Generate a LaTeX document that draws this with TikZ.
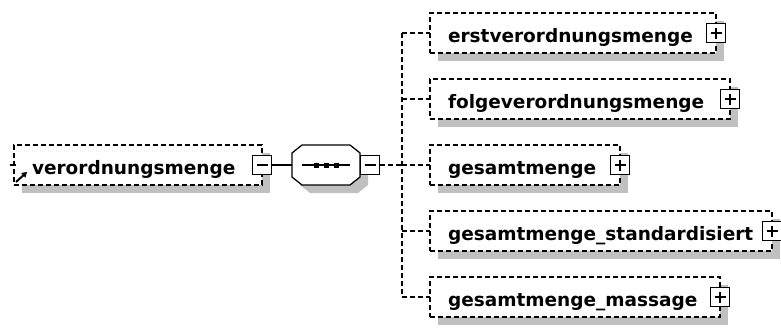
\documentclass[tikz,border=0pt]{standalone}
\usepackage{fontspec}
\setmainfont{DejaVu Sans}
\usetikzlibrary{shadows,arrows.meta}
\definecolor{shadowgray}{RGB}{192,192,192}
\begin{document}
\begin{tikzpicture}[x=1pt,y=-1pt,
  every node/.style={inner sep=0pt, outer sep=0pt},
  sh/.style={general shadow={fill=shadowgray, shadow xshift=8pt, shadow yshift=-8pt}},
  dsh/.style={dash pattern=on 5pt off 3pt},
  optbox/.style={draw, line width=1.3pt, dsh, fill=white, minimum height=40pt, anchor=north west, sh},
  lbl/.style={anchor=base west, font=\bfseries\fontsize{18.5}{20}\selectfont},
  pmbox/.style={draw, solid, line width=1.3pt, fill=white, minimum size=19pt},
  minusbox/.style={pmbox, path picture={\draw[line width=1.3pt] ([xshift=4pt]path picture bounding box.west) -- ([xshift=-4pt]path picture bounding box.east);}},
  plusbox/.style={pmbox, path picture={
     \draw[line width=1.3pt] ([xshift=4pt]path picture bounding box.west) -- ([xshift=-4pt]path picture bounding box.east);
     \draw[line width=1.3pt] ([yshift=-4pt]path picture bounding box.north) -- ([yshift=4pt]path picture bounding box.south);}},
  conn/.style={line width=1.3pt},
  dconn/.style={conn, dsh}
]
\useasboundingbox (0,0) rectangle (781,333);

% root element
\node[optbox, minimum width=248pt] (root) at (14,145) {};
\node[lbl] (roottext) at (32,174) {verordnungsmenge};
\coordinate (tickA) at (10,165);
\coordinate (tickB) at (16,165);
\draw[conn] (tickA) -- (tickB);
\coordinate (arrA) at (16,182);
\coordinate (arrB) at (27,172);
\draw[line width=2pt, -{Triangle[length=5pt,width=6pt]}] (arrA) -- (arrB);
\node[minusbox] (m1) at (root.east) {};

% sequence compositor
\node[minimum width=68pt, minimum height=40pt] (seq) at (326,165) {};
\fill[shadowgray] (310,153) -- (358,153) -- (368,161) -- (368,185) -- (358,193) -- (310,193) -- (300,185) -- (300,161) -- cycle;
\draw[conn, fill=white] (302,145) -- (350,145) -- (360,153) -- (360,177) -- (350,185) -- (302,185) -- (292,177) -- (292,153) -- cycle;
\coordinate (seqL) at (302,165);
\coordinate (seqR) at (350,165);
\draw[conn] (seqL) -- (seqR);
\foreach \dx in {-10,0,10} {\fill ([xshift=\dx pt]seq.center) +(-2.5,-2.5) rectangle +(2.5,2.5);}
\node[minusbox] (m2) at (370,165) {};
\draw[conn] (m1.east) -- (seq.west);

% children
\node[optbox, minimum width=286pt] (c1) at (430,13) {};
\node[lbl] (t1) at (448,42) {erstverordnungsmenge};
\node[plusbox] (p1) at (c1.east) {};

\node[optbox, minimum width=300pt] (c2) at (430,79) {};
\node[lbl] (t2) at (448,108) {folgeverordnungsmenge};
\node[plusbox] (p2) at (c2.east) {};

\node[optbox, minimum width=190pt] (c3) at (430,145) {};
\node[lbl] (t3) at (448,174) {gesamtmenge};
\node[plusbox] (p3) at (c3.east) {};

\node[optbox, minimum width=342pt] (c4) at (430,211) {};
\node[lbl] (t4) at (448,240) {gesamtmenge\_standardisiert};
\node[plusbox] (p4) at (c4.east) {};

\node[optbox, minimum width=290pt] (c5) at (430,277) {};
\node[lbl] (t5) at (448,306) {gesamtmenge\_massage};
\node[plusbox] (p5) at (c5.east) {};

% connectors
\coordinate (bus) at (402,165);
\draw[dconn] (m2.east) -- (bus);
\draw[dconn] (bus |- c1.west) -- (bus |- c5.west);
\foreach \c in {c1,c2,c3,c4,c5} {\draw[dconn] (bus |- \c.west) -- (\c.west);}
\end{tikzpicture}
\end{document}
